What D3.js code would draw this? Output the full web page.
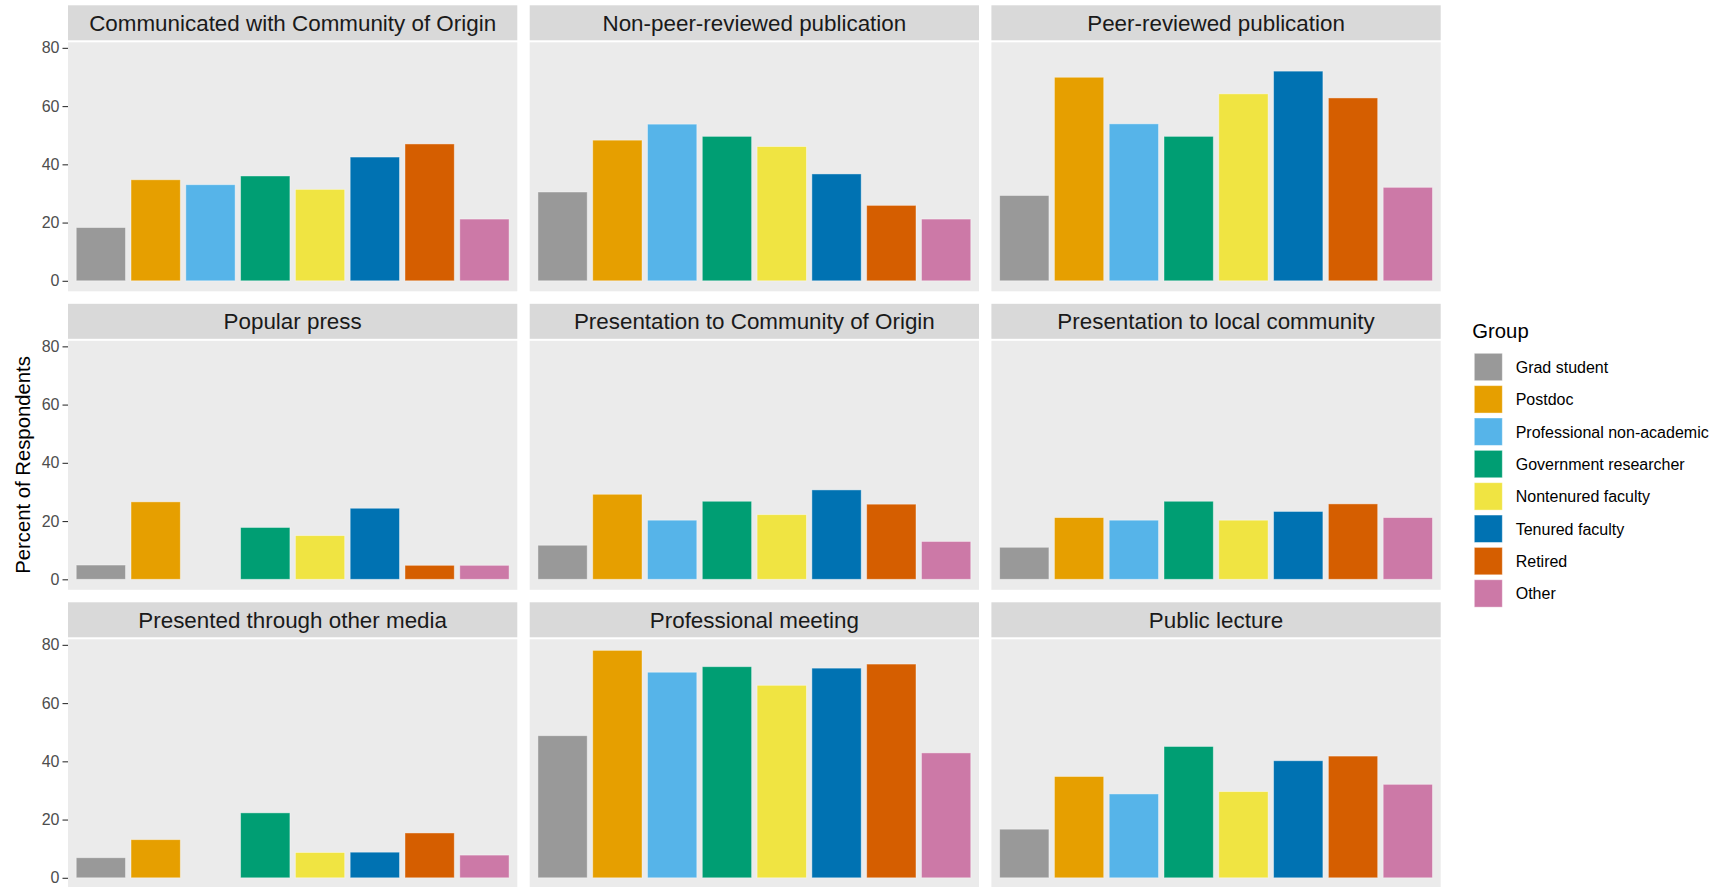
<!DOCTYPE html>
<html>
<head>
<meta charset="utf-8">
<script src="https://cdn.jsdelivr.net/npm/d3@7"></script>
<style>
  html, body { margin: 0; padding: 0; background: #ffffff; }
  svg { display: block; font-family: "Liberation Sans", Arial, sans-serif; }
</style>
</head>
<body>
<svg id="chart" width="1730" height="887"></svg>
<script>
// ---------- data ----------
const groups = ["Grad student", "Postdoc", "Professional non-academic", "Government researcher",
                "Nontenured faculty", "Tenured faculty", "Retired", "Other"];
const groupColors = ["#999999", "#E69F00", "#56B4E9", "#009E73", "#F0E442", "#0072B2", "#D55E00", "#CC79A7"];
const facets = ["Communicated with Community of Origin", "Non-peer-reviewed publication", "Peer-reviewed publication",
                "Popular press", "Presentation to Community of Origin", "Presentation to local community",
                "Presented through other media", "Professional meeting", "Public lecture"];
const communicatedOrigin   = [18.3, 34.7, 33.0, 36.0, 31.4, 42.5, 47.0, 21.2];
const nonPeerReviewed      = [30.5, 48.3, 53.8, 49.6, 46.1, 36.7, 25.9, 21.2];
const peerReviewed         = [29.3, 69.9, 53.9, 49.6, 64.2, 72.0, 62.8, 32.1];
const popularPress         = [4.9, 26.6, null, 17.8, 15.0, 24.4, 4.8, 4.8];
const presentationOrigin   = [11.7, 29.2, 20.3, 26.8, 22.2, 30.7, 25.8, 13.0];
const presentationLocal    = [11.0, 21.2, 20.3, 26.8, 20.3, 23.3, 25.9, 21.2];
const otherMedia           = [6.9, 13.1, null, 22.3, 8.7, 8.8, 15.4, 7.8];
const professionalMeeting  = [48.8, 78.1, 70.6, 72.5, 66.1, 72.0, 73.4, 42.9];
const publicLecture        = [16.7, 34.8, 28.8, 45.1, 29.6, 40.2, 41.8, 32.1];
const facetValues = [communicatedOrigin, nonPeerReviewed, peerReviewed, popularPress, presentationOrigin,
                     presentationLocal, otherMedia, professionalMeeting, publicLecture];
const yTicks = [0, 20, 40, 60, 80];
const yTitle = "Percent of Respondents";
const legendTitle = "Group";

// ---------- layout ----------
const svg = d3.select("#chart");
const colLeft0 = 68, panelW = 449.3, colGap = 12.4;
const rowTop0 = 5.3, rowPitch = 298.5, stripH = 35, stripGap = 2, panelH = 249;

const color = d3.scaleOrdinal().domain(groups).range(groupColors);
const yMax = d3.max(facetValues.flat());
const yPad = yMax * 0.05;
const x = d3.scaleBand().domain(groups).range([0, panelW]).paddingInner(0.1).paddingOuter(0.5 * 0.1 + 0.6 - 0.05);
// ggplot-like: positions 1..8, expansion 0.6 each side, bar width 0.9
const xPos = d3.scaleLinear().domain([0.4, 8.6]).range([0, panelW]);
const barW = xPos(1.9) - xPos(1.0);

facets.forEach((f, i) => {
  const col = i % 3, row = Math.floor(i / 3);
  const left = colLeft0 + col * (panelW + colGap);
  const top = rowTop0 + row * rowPitch;
  const pTop = top + stripH + stripGap;
  const y = d3.scaleLinear().domain([-yPad + 0.3, yMax + yPad - 0.1]).range([pTop + panelH, pTop]);

  const g = svg.append("g");
  // strip
  g.append("rect").attr("x", left).attr("y", top).attr("width", panelW).attr("height", stripH).attr("fill", "#D9D9D9");
  g.append("text").attr("x", left + panelW / 2).attr("y", top + stripH / 2 + 8)
    .attr("text-anchor", "middle").attr("font-size", 22.4).attr("fill", "#1A1A1A").text(f);
  // panel
  g.append("rect").attr("x", left).attr("y", pTop).attr("width", panelW).attr("height", panelH).attr("fill", "#EBEBEB");
  // bars
  const vals = facetValues[i];
  g.selectAll("rect.bar").data(groups.map((gr, k) => ({ gr, k, v: vals[k] })).filter(d => d.v != null))
    .enter().append("rect").attr("class", "bar")
    .attr("x", d => left + xPos(d.k + 1) - barW / 2)
    .attr("width", barW)
    .attr("y", d => y(d.v))
    .attr("height", d => y(0) - y(d.v))
    .attr("fill", d => color(d.gr))
    .attr("stroke", "#ffffff").attr("stroke-opacity", 0.45).attr("stroke-width", 0.9);
  // y axis on left column
  if (col === 0) {
    const ax = svg.append("g").attr("transform", `translate(${left},0)`)
      .call(d3.axisLeft(y).tickValues(yTicks).tickSize(5.5).tickPadding(3));
    ax.select(".domain").remove();
    ax.selectAll(".tick line").attr("stroke", "#333333").attr("stroke-width", 1.1);
    ax.selectAll(".tick text").attr("fill", "#4D4D4D").attr("font-size", 16)
      .attr("font-family", "'Liberation Sans', Arial, sans-serif");
  }
});

// y axis title
svg.append("text").attr("transform", "translate(30,465) rotate(-90)")
  .attr("text-anchor", "middle").attr("font-size", 20.3).attr("fill", "#000000").text(yTitle);

// legend
const lg = svg.append("g");
lg.append("text").attr("x", 1472.3).attr("y", 338.3).attr("font-size", 20.3).attr("fill", "#000000").text(legendTitle);
const keyTop = 353.3, keyPitch = 32.35, keyW = 28, keyH = 27.4;
groups.forEach((gr, k) => {
  const yy = keyTop + k * keyPitch;
  lg.append("rect").attr("x", 1474.3).attr("y", yy).attr("width", keyW).attr("height", keyH)
    .attr("fill", color(gr)).attr("stroke", "#ffffff").attr("stroke-opacity", 0.45).attr("stroke-width", 0.9);
  lg.append("text").attr("x", 1515.7).attr("y", yy + keyH / 2 + 5.8).attr("font-size", 16).attr("fill", "#000000").text(gr);
});
</script>
</body>
</html>
